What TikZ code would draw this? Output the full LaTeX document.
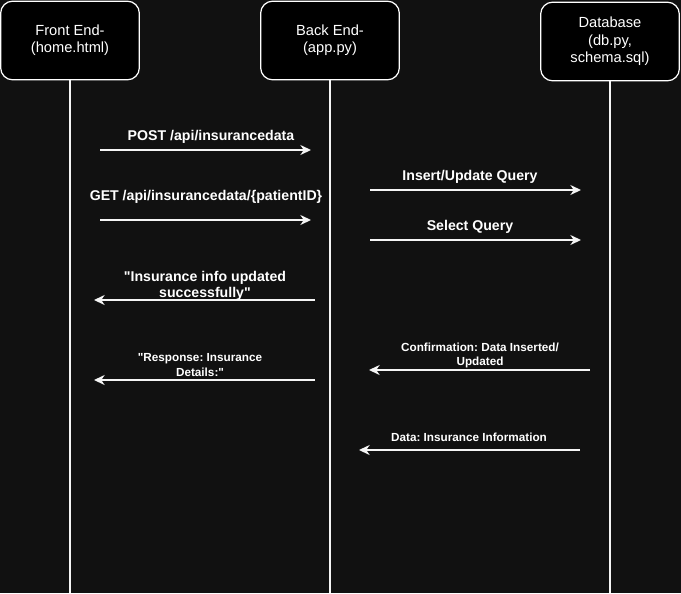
\documentclass[tikz,border=0pt]{standalone}
\usepackage{fontspec}
\setmainfont{Liberation Sans}
\usepackage{tikz}
\usetikzlibrary{arrows.meta}
\definecolor{SDBack}{RGB}{17,17,17}
\definecolor{SDLine}{RGB}{245,245,245}
\frenchspacing

\begin{document}
\begin{tikzpicture}[x=0.75pt, y=-0.75pt,
      actor/.style={rectangle, rounded corners=9pt, draw=white, line width=0.9pt,
                    fill=black, minimum width=104pt, minimum height=59pt,
                    text=white, align=center, font=\fontsize{11}{13}\selectfont},
      life/.style={draw=SDLine, line width=1.4pt},
      msg/.style={-{Stealth[length=8pt, width=7.5pt]}, draw=SDLine, line width=1.5pt},
      lbl/.style={text=white, align=center, font=\fontsize{10.6}{12.2}\selectfont\bfseries},
      slbl/.style={text=white, align=center, font=\fontsize{8.8}{11}\selectfont\bfseries}
    ]
    \fill[SDBack] (0,0) rectangle (681,593);
    \useasboundingbox (0,0) rectangle (681,593);

    % participants
    \node[actor] (front) at (70,40.5)  {Front End-\\(home.html)};
    \node[actor] (back)  at (330,40.5) {Back End-\\(app.py)};
    \node[actor] (db)    at (610,41.5) {Database\\(db.py,\\schema.sql)};

    \coordinate (frontEnd) at (70,593);
    \coordinate (backEnd)  at (330,593);
    \coordinate (dbEnd)    at (610,593);

    \draw[life] (front.south) -- (frontEnd);
    \draw[life] (back.south)  -- (backEnd);
    \draw[life] (db.south)    -- (dbEnd);

    % message end points
    \coordinate (postA) at (100,150);  \coordinate (postB) at (311,150);
    \coordinate (getA)  at (100,220);  \coordinate (getB)  at (311,220);
    \coordinate (insA)  at (370,190);  \coordinate (insB)  at (581,190);
    \coordinate (selA)  at (370,240);  \coordinate (selB)  at (581,240);
    \coordinate (updA)  at (315,300);  \coordinate (updB)  at (94,300);
    \coordinate (resA)  at (315,380);  \coordinate (resB)  at (94,380);
    \coordinate (conA)  at (590,370);  \coordinate (conB)  at (369,370);
    \coordinate (datA)  at (580,450);  \coordinate (datB)  at (359,450);

    \draw[msg] (postA) -- (postB);
    \draw[msg] (getA)  -- (getB);
    \draw[msg] (insA)  -- (insB);
    \draw[msg] (selA)  -- (selB);
    \draw[msg] (updA)  -- (updB);
    \draw[msg] (resA)  -- (resB);
    \draw[msg] (conA)  -- (conB);
    \draw[msg] (datA)  -- (datB);

    % labels
    \node[lbl]  (postL) at (211,136.5) {POST /api/insurancedata};
    \node[lbl]  (getL)  at (206,196.5) {GET /api/insurancedata/\{patientID\}};
    \node[lbl]  (insL)  at (470,176.5) {Insert/Update Query};
    \node[lbl]  (selL)  at (470,226.5) {Select Query};
    \node[lbl]  (updL)  at (205,286)   {\textquotedbl Insurance info updated\\successfully\textquotedbl};
    \node[slbl] (resL)  at (200,365)   {\textquotedbl Response: Insurance\\Details:\textquotedbl};
    \node[slbl] (conL)  at (480,355.5) {Confirmation: Data Inserted/\\Updated};
    \node[slbl] (datL)  at (469,437)   {Data: Insurance Information};
  \end{tikzpicture}
\end{document}
